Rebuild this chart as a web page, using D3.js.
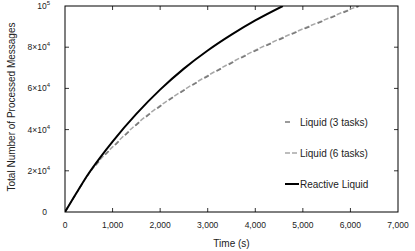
<!DOCTYPE html>
<html>
<head>
<meta charset="utf-8">
<script src="https://cdn.jsdelivr.net/npm/d3@7"></script>
<style>
  body { margin: 0; background: #fff; }
  text { font-family: "Liberation Sans", Arial, sans-serif; }
</style>
</head>
<body>
<div class="graph"></div>
<script>
// values
var reactiveTime = [0, 250, 500, 750, 1000, 1500, 2000, 2500, 3000, 3500, 4000, 4580];
var reactiveMsgs = [0, 9600, 18800, 26800, 34200, 47600, 59400, 69600, 78400, 86100, 93000, 100000];

var liquidTime = [0, 250, 500, 750, 1000, 1500, 2000, 2500, 3000, 3500, 4000, 4500, 5000, 5500, 6000, 6170];
var liquid3Msgs = [0, 9500, 18500, 25500, 31300, 42300, 51300, 59000, 65900, 72300, 78200, 83600, 88600, 93400, 98200, 99800];
var liquid6Msgs = [0, 9500, 18500, 25700, 31600, 42600, 51600, 59300, 66200, 72600, 78500, 83900, 88900, 93700, 98500, 100000];

var xTicks = [0, 1000, 2000, 3000, 4000, 5000, 6000, 7000];
var yTicks = [0, 20000, 40000, 60000, 80000, 100000];

var series = [
  {name: "Liquid (3 tasks)", t: liquidTime, v: liquid3Msgs, color: "#7a7a7a", width: 1.5, dash: "5,9"},
  {name: "Liquid (6 tasks)", t: liquidTime, v: liquid6Msgs, color: "#a8a8a8", width: 1.5, dash: "5,2"},
  {name: "Reactive Liquid", t: reactiveTime, v: reactiveMsgs, color: "#000", width: 2, dash: null}
];

var margin = {top: 6, right: 17, bottom: 39, left: 65},
    width = 415 - margin.left - margin.right,
    height = 251 - margin.top - margin.bottom;

var x = d3.scaleLinear().domain([0, 7000]).range([0, width]);
var y = d3.scaleLinear().domain([0, 100000]).range([height, 0]);

var svg = d3.select("div.graph").append("svg")
    .attr("width", 415)
    .attr("height", 251)
  .append("g")
    .attr("transform", "translate(" + margin.left + "," + margin.top + ")");

// clip so the curves stop at the frame
svg.append("clipPath").attr("id", "clip")
  .append("rect").attr("width", width).attr("height", height);

// ticks pointing in, mirrored on top and right
var tickLen = 4;
xTicks.forEach(function(t) {
  if (t === 0 || t === 7000) return;
  svg.append("line").attr("x1", x(t)).attr("x2", x(t)).attr("y1", height).attr("y2", height - tickLen)
    .attr("stroke", "#000").attr("stroke-width", 0.8);
  svg.append("line").attr("x1", x(t)).attr("x2", x(t)).attr("y1", 0).attr("y2", tickLen)
    .attr("stroke", "#000").attr("stroke-width", 0.8);
});
yTicks.forEach(function(v) {
  if (v === 0 || v === 100000) return;
  svg.append("line").attr("x1", 0).attr("x2", tickLen).attr("y1", y(v)).attr("y2", y(v))
    .attr("stroke", "#000").attr("stroke-width", 0.8);
  svg.append("line").attr("x1", width).attr("x2", width - tickLen).attr("y1", y(v)).attr("y2", y(v))
    .attr("stroke", "#000").attr("stroke-width", 0.8);
});

// x tick labels
svg.selectAll(".xlab")
  .data(xTicks)
  .enter().append("text")
    .attr("x", function(d) { return x(d); })
    .attr("y", height + 16)
    .attr("text-anchor", "middle")
    .attr("font-size", "8.5px")
    .attr("fill", "#222")
    .text(function(d) { return d3.format(",")(d); });

// y tick labels like 2×10^4
yTicks.forEach(function(v) {
  var t = svg.append("text")
    .attr("x", -15)
    .attr("y", y(v) + 3)
    .attr("text-anchor", "end")
    .attr("font-size", "8.5px")
    .attr("fill", "#222");
  if (v === 0) {
    t.attr("x", -18).text("0");
  } else if (v === 100000) {
    t.append("tspan").text("10");
    t.append("tspan").attr("dy", -4).attr("font-size", "6px").text("5");
  } else {
    t.append("tspan").text((v / 10000) + "×10");
    t.append("tspan").attr("dy", -4).attr("font-size", "6px").text("4");
  }
});

// axis titles
svg.append("text")
  .attr("x", width / 2)
  .attr("y", height + 34.5)
  .attr("text-anchor", "middle")
  .attr("font-size", "10px")
  .attr("fill", "#222")
  .text("Time (s)");

svg.append("text")
  .attr("transform", "translate(" + (-50) + "," + (height / 2 - 2) + ") rotate(-90)")
  .attr("text-anchor", "middle")
  .attr("font-size", "10px")
  .attr("fill", "#222")
  .text("Total Number of Processed Messages");

// curves
var line = d3.line()
  .x(function(d) { return x(d[0]); })
  .y(function(d) { return y(d[1]); })
  .curve(d3.curveMonotoneX);

[series[1], series[0], series[2]].forEach(function(s) {
  svg.append("path")
    .datum(d3.zip(s.t, s.v))
    .attr("clip-path", "url(#clip)")
    .attr("fill", "none")
    .attr("stroke", s.color)
    .attr("stroke-width", s.width)
    .attr("stroke-dasharray", s.dash)
    .attr("d", line);
});

// legend
var legend = svg.append("g").attr("transform", "translate(" + (285 - margin.left) + ",0)");
series.forEach(function(s, i) {
  var ly = 116 + i * 31;
  legend.append("line")
    .attr("x1", 0).attr("x2", 14).attr("y1", ly).attr("y2", ly)
    .attr("stroke", s.color)
    .attr("stroke-width", s.width)
    .attr("stroke-dasharray", s.dash);
  legend.append("text")
    .attr("x", 15)
    .attr("y", ly + 3.5)
    .attr("font-size", "10px")
    .attr("fill", "#222")
    .text(s.name);
});

// frame
svg.append("rect")
  .attr("width", width)
  .attr("height", height)
  .attr("fill", "none")
  .attr("stroke", "#000")
  .attr("stroke-width", 1);
</script>
</body>
</html>
